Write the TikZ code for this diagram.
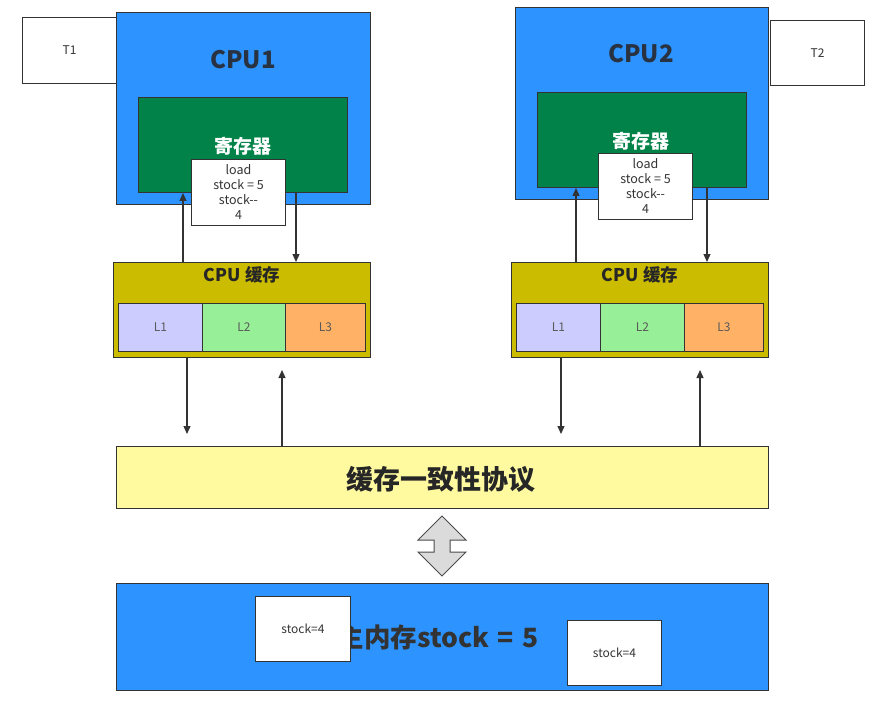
\documentclass[tikz,border=0pt]{standalone}
\usepackage{fontspec}
\setmainfont{Noto Sans CJK SC}
\usetikzlibrary{arrows.meta,calc}
\definecolor{cpublue}{RGB}{44,147,255}
\definecolor{reggreen}{RGB}{0,130,72}
\definecolor{cacheolive}{RGB}{204,188,0}
\definecolor{lone}{RGB}{204,204,255}
\definecolor{ltwo}{RGB}{151,240,151}
\definecolor{lthree}{RGB}{255,178,102}
\definecolor{cohyellow}{RGB}{255,250,160}
\definecolor{edge}{RGB}{51,51,51}
\definecolor{titletxt}{RGB}{40,50,64}
\tikzset{
  box/.style={draw=edge, line width=1pt, anchor=north west, inner sep=0pt, align=center},
  whitebox/.style={box, fill=white, text=edge, font=\fontsize{12}{14}\selectfont},
  cpubox/.style={box, fill=cpublue},
  regbox/.style={box, fill=reggreen},
  cachebox/.style={box, fill=cacheolive},
  lbox/.style={box, text=black!65, font=\fontsize{12}{14}\selectfont},
  lbl/.style={inner sep=0pt, align=center},
  arr/.style={draw=edge, line width=1.2pt, -{Triangle[width=7pt,length=8pt]}},
}
\begin{document}
\begin{tikzpicture}[x=1pt,y=-1pt]
\useasboundingbox (0,0) rectangle (869,703);

% ---------- CPU1 side ----------
\node[cpubox, minimum width=254, minimum height=192] (cpu1) at (116,12) {};
\node[whitebox, minimum width=94, minimum height=66] (t1) at (22,17) {T1};
\node[lbl, font=\fontsize{24}{26}\selectfont\bfseries, text=titletxt] (cpu1t) at (243,60) {CPU1};
\node[regbox, minimum width=209, minimum height=95] (reg1) at (138,97) {};
\node[lbl, font=\fontsize{19}{21}\selectfont\bfseries, text=white] (reg1t) at (243,146) {寄存器};
\node[whitebox, minimum width=94, minimum height=66, font=\fontsize{12.5}{15}\selectfont] (load1) at (191,159) {load\\stock = 5\\stock{-}{-}\\4};

\node[cachebox, minimum width=257, minimum height=95] (cache1) at (113,262) {};
\node[lbl, font=\fontsize{17.5}{19}\selectfont\bfseries, text=black!85] (cache1t) at (242,275) {CPU 缓存};
\node[lbox, fill=lone, minimum width=84, minimum height=48] (l11) at (118,303) {L1};
\node[lbox, fill=ltwo, minimum width=83, minimum height=48] (l12) at (202,303) {L2};
\node[lbox, fill=lthree, minimum width=80, minimum height=48] (l13) at (285,303) {L3};

% ---------- CPU2 side ----------
\node[cpubox, minimum width=253, minimum height=192] (cpu2) at (515,7) {};
\node[whitebox, minimum width=94, minimum height=65] (t2) at (770,20) {T2};
\node[lbl, font=\fontsize{24}{26}\selectfont\bfseries, text=titletxt] (cpu2t) at (641,54) {CPU2};
\node[regbox, minimum width=209, minimum height=95] (reg2) at (537,92) {};
\node[lbl, font=\fontsize{19}{21}\selectfont\bfseries, text=white] (reg2t) at (641,141) {寄存器};
\node[whitebox, minimum width=94, minimum height=66, font=\fontsize{12.5}{15}\selectfont] (load2) at (598,153) {load\\stock = 5\\stock{-}{-}\\4};

\node[cachebox, minimum width=257, minimum height=95] (cache2) at (511,262) {};
\node[lbl, font=\fontsize{17.5}{19}\selectfont\bfseries, text=black!85] (cache2t) at (640,275) {CPU 缓存};
\node[lbox, fill=lone, minimum width=84, minimum height=48] (l21) at (516,303) {L1};
\node[lbox, fill=ltwo, minimum width=84, minimum height=48] (l22) at (600,303) {L2};
\node[lbox, fill=lthree, minimum width=79, minimum height=48] (l23) at (684,303) {L3};

% ---------- coherence & memory ----------
\node[box, fill=cohyellow, minimum width=652, minimum height=62] (coh) at (116,446) {};
\node[lbl, font=\fontsize{27}{29}\selectfont\bfseries, text=black!85] (coht) at (441,479) {缓存一致性协议};

\node[box, fill=cpublue, minimum width=652, minimum height=107] (mem) at (116,583) {};
\node[lbl, font=\fontsize{26.5}{28}\selectfont\bfseries, text=black!80] (memt) at (438,637) {主内存stock\hspace{0.32em}=\hspace{0.32em}5};
\node[whitebox, minimum width=95, minimum height=65] (s1) at (255,596) {stock=4};
\node[whitebox, minimum width=94, minimum height=65] (s2) at (567,620) {stock=4};

% double arrow between coherence and memory
\coordinate (dac) at (442,546);
\draw[draw=black!70, fill=black!14, line width=1pt, line join=miter]
  ($(dac)+(0,-30)$) -- ($(dac)+(24,-6)$) -- ($(dac)+(8,-6)$) -- ($(dac)+(8,6)$) -- ($(dac)+(24,6)$)
  -- ($(dac)+(0,30)$) -- ($(dac)+(-24,6)$) -- ($(dac)+(-8,6)$) -- ($(dac)+(-8,-6)$) -- ($(dac)+(-24,-6)$) -- cycle;

% ---------- arrows ----------
\coordinate (xa) at (183,0);
\coordinate (xb) at (296,0);
\coordinate (xc) at (187,0);
\coordinate (xd) at (282,0);
\coordinate (xe) at (576,0);
\coordinate (xf) at (707,0);
\coordinate (xg) at (561,0);
\coordinate (xh) at (700,0);
\coordinate (ydn) at (0,434);
\coordinate (yup) at (0,370);

\draw[arr] (xa |- cache1.north) -- (xa |- reg1.south);
\draw[arr] (xb |- reg1.south) -- (xb |- cache1.north);
\draw[arr] (xe |- cache2.north) -- (xe |- reg2.south);
\draw[arr] (xf |- reg2.south) -- (xf |- cache2.north);

\draw[arr] (xc |- cache1.south) -- (xc |- ydn);
\draw[arr] (xd |- coh.north) -- (xd |- yup);
\draw[arr] (xg |- cache2.south) -- (xg |- ydn);
\draw[arr] (xh |- coh.north) -- (xh |- yup);
\end{tikzpicture}
\end{document}
